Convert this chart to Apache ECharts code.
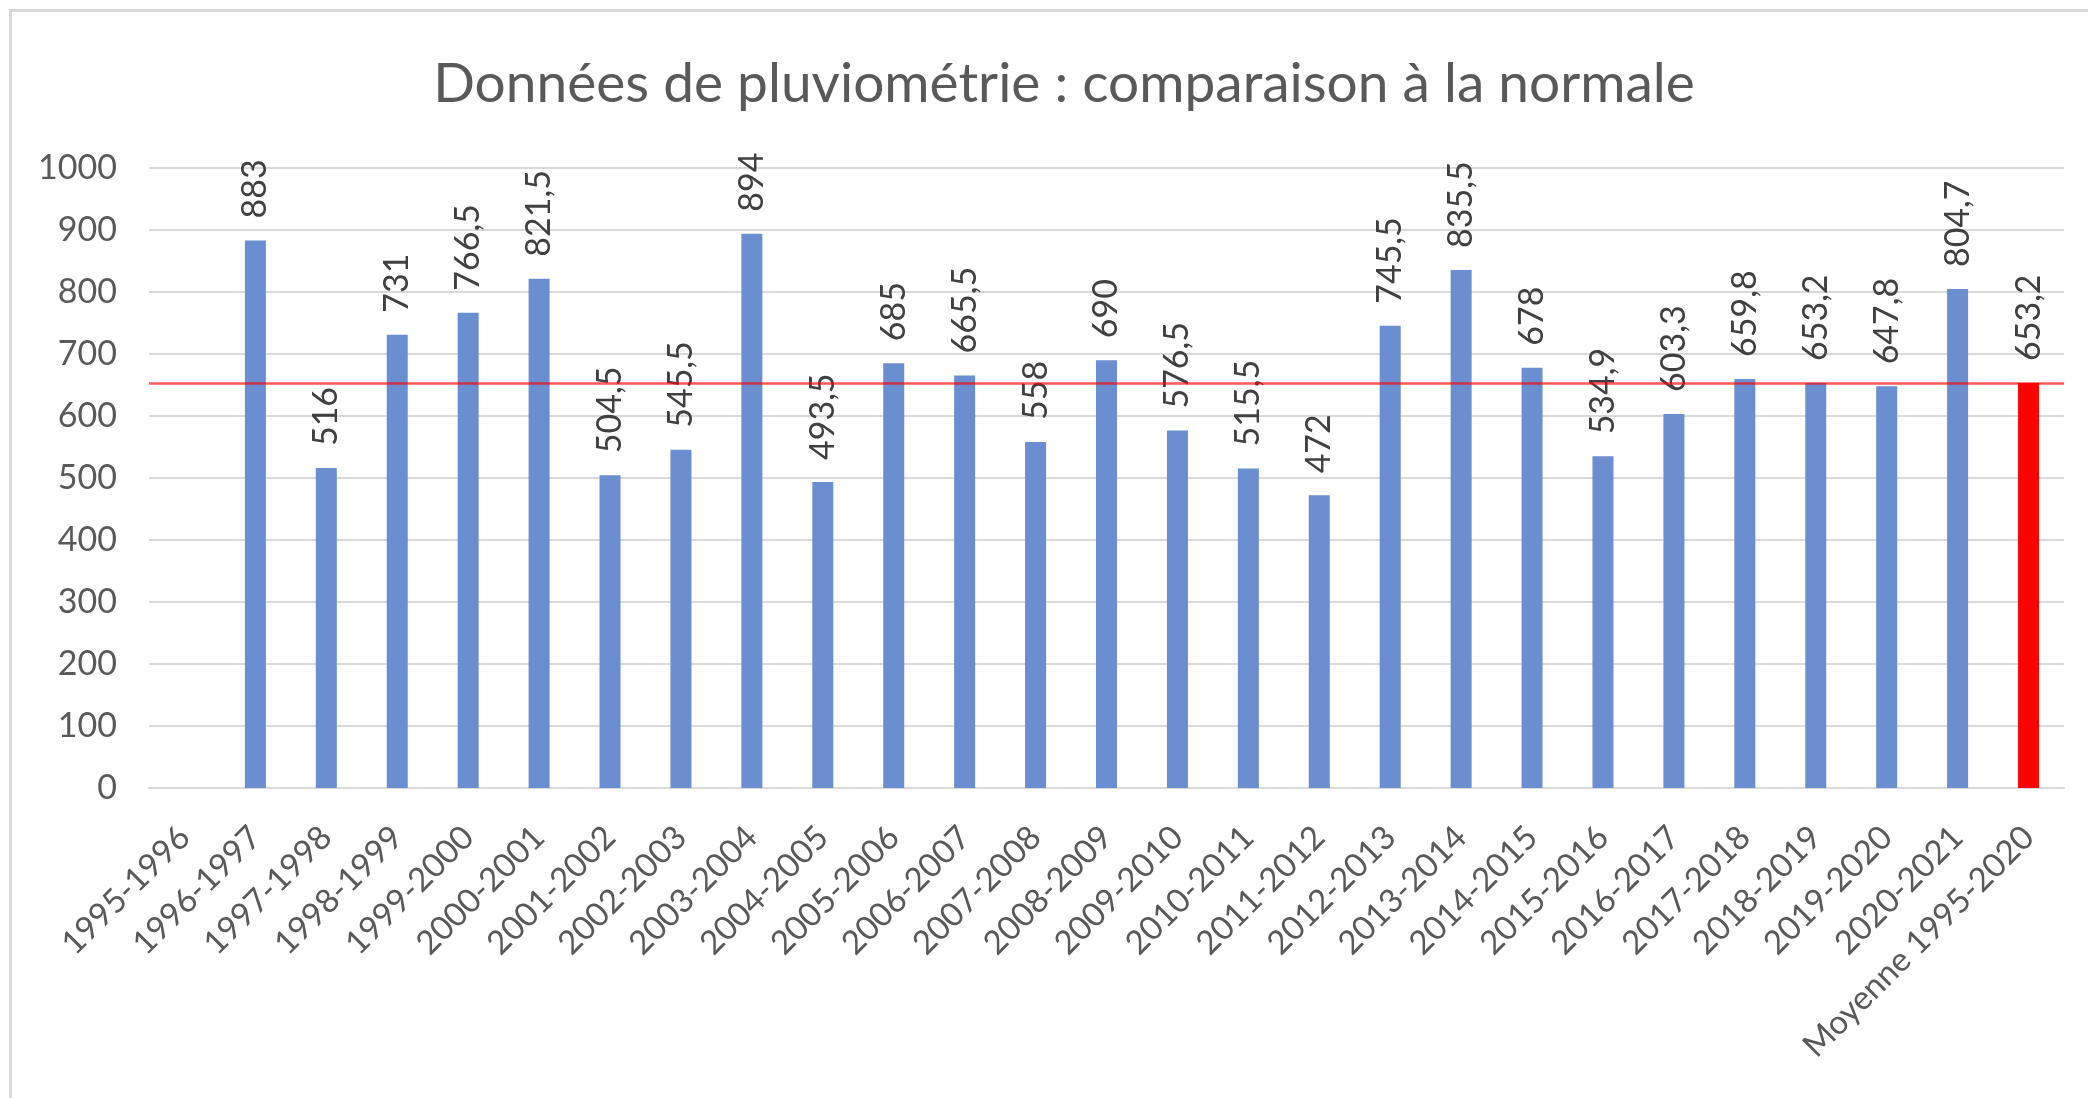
<!DOCTYPE html>
<html>
<head>
<meta charset="utf-8">
<title>Pluviométrie</title>
<script src="https://cdn.jsdelivr.net/npm/echarts@6/dist/echarts.min.js"></script>
<style>
    html, body { margin: 0; padding: 0; background: #fff; }
    #chart { position: absolute; left: 0; top: 0; width: 2088px; height: 1098px; }
    #frame {
        position: absolute; left: 9px; top: 9px; width: 2079px; height: 1089px;
        border-left: 3px solid #d9d9d9; border-top: 3px solid #d9d9d9;
        pointer-events: none;
    }
</style>
</head>
<body>
<div id="chart"></div>
<div id="frame"></div>
<script>
// saisons (le dernier libellé = moyenne)
const categories = [
    '1995-1996', '1996-1997', '1997-1998', '1998-1999', '1999-2000', '2000-2001',
    '2001-2002', '2002-2003', '2003-2004', '2004-2005', '2005-2006', '2006-2007',
    '2007-2008', '2008-2009', '2009-2010', '2010-2011', '2011-2012', '2012-2013',
    '2013-2014', '2014-2015', '2015-2016', '2016-2017', '2017-2018', '2018-2019',
    '2019-2020', '2020-2021', 'Moyenne 1995-2020'
];

// cumul de pluie par saison (mm)
const rainfall = [
    null, 883, 516, 731, 766.5, 821.5,
    504.5, 545.5, 894, 493.5, 685, 665.5,
    558, 690, 576.5, 515.5, 472, 745.5,
    835.5, 678, 534.9, 603.3, 659.8, 653.2,
    647.8, 804.7, 653.2
];

const yTicks = [0, 100, 200, 300, 400, 500, 600, 700, 800, 900, 1000];

const normalValue = rainfall[rainfall.length - 1];
const BLUE = '#6a8ecf';
const RED = '#ff0000';
const FONT = 'Lato';

const chart = echarts.init(document.getElementById('chart'), null, { renderer: 'canvas' });

const barData = rainfall.map((v, i) => ({
    value: v,
    itemStyle: { color: i === rainfall.length - 1 ? RED : BLUE }
}));

const option = {
    animation: false,
    backgroundColor: '#fff',
    title: {
        text: 'Données de pluviométrie : comparaison à la normale',
        left: 1059,
        top: 52,
        textAlign: 'center',
        textStyle: {
            fontFamily: FONT,
            fontSize: 55,
            fontWeight: 'normal',
            color: '#595959'
        }
    },
    grid: {
        left: 149,
        right: 24,
        top: 168,
        bottom: 310,
        containLabel: false
    },
    xAxis: {
        type: 'category',
        data: categories,
        axisTick: { show: false },
        axisLine: { lineStyle: { color: '#d9d9d9', width: 2 } },
        axisLabel: {
            interval: 0,
            rotate: 45,
            margin: 44,
            fontFamily: FONT,
            fontSize: 33,
            color: '#595959'
        }
    },
    yAxis: {
        type: 'value',
        min: yTicks[0],
        max: yTicks[yTicks.length - 1],
        interval: 100,
        axisLine: { show: false },
        axisTick: { show: false },
        splitLine: { lineStyle: { color: '#d9d9d9', width: 2 } },
        axisLabel: {
            margin: 32,
            fontFamily: FONT,
            fontSize: 34,
            color: '#595959',
            formatter: (v) => String(v)
        }
    },
    series: [
        {
            type: 'bar',
            data: barData,
            barWidth: 21,
            label: {
                show: true,
                position: 'top',
                rotate: 90,
                align: 'left',
                verticalAlign: 'middle',
                distance: 22,
                fontFamily: FONT,
                fontSize: 34,
                color: '#404040',
                formatter: (p) => String(p.value).replace('.', ',')
            },
            markLine: {
                silent: true,
                symbol: 'none',
                z: 5,
                label: { show: false },
                lineStyle: { color: 'rgba(255,0,0,0.65)', width: 2.5, type: 'solid' },
                data: [{ yAxis: normalValue }]
            }
        }
    ]
};

chart.setOption(option);
</script>
</body>
</html>
